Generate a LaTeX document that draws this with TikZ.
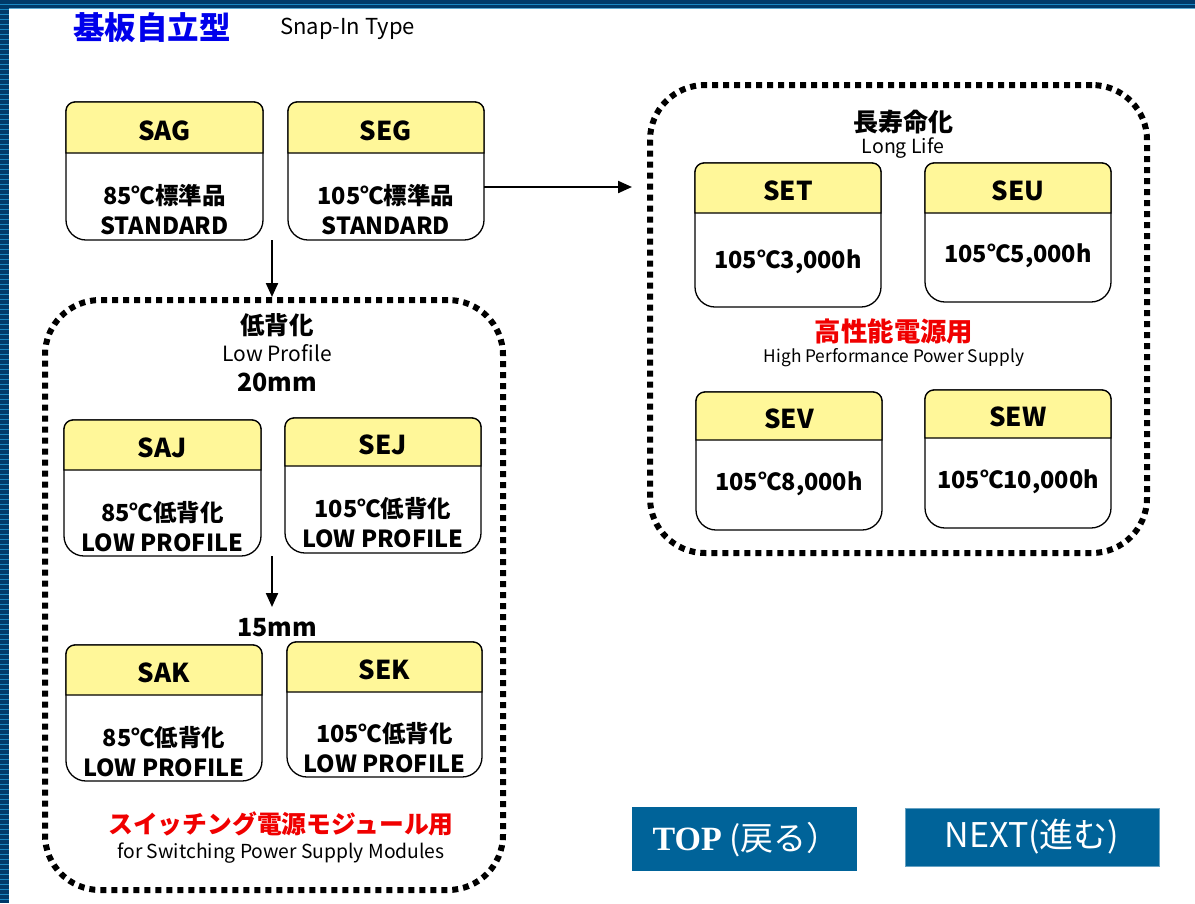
\documentclass[tikz,border=0pt]{standalone}
\usepackage{fontspec}
\setmainfont{Noto Sans CJK JP}
\newfontfamily\serifb{Liberation Serif}
\usetikzlibrary{arrows.meta}
\definecolor{hdr}{RGB}{255,247,153}
\definecolor{btn}{RGB}{0,99,153}
\definecolor{navy}{RGB}{0,58,106}
\definecolor{stripe}{RGB}{25,135,195}
\definecolor{ttl}{RGB}{0,0,235}
\definecolor{redtxt}{RGB}{240,0,0}
\newcommand\fs[1]{\fontsize{#1}{#1}\selectfont}
\tikzset{
  cardline/.style={draw=black, line width=1.3pt},
  ctitle/.style={font=\fs{26}\bfseries, inner sep=0pt},
  cbody/.style={font=\fontsize{23.5}{30}\selectfont\bfseries, align=center, inner sep=0pt},
  dashbox/.style={draw=black, line width=6pt, dash pattern=on 6pt off 5pt, rounded corners=55pt, inner sep=0pt},
  arr/.style={draw=black, line width=2.2pt, -{Triangle[length=14pt,width=12pt]}},
  jlabel/.style={font=\fs{24.5}\bfseries, inner sep=0pt},
  elabel/.style={inner sep=0pt},
  rlabel/.style={text=redtxt, inner sep=0pt},
  btnbox/.style={fill=btn, inner sep=0pt},
  btntext/.style={text=white, inner sep=0pt},
}
\newcommand\card[9]{%
  \path[cardline, fill=white] (#2,{#3+9}) .. controls (#2,{#3+4}) and ({#2+4},#3) .. ({#2+9},#3)
    -- ({#4-9},#3) .. controls ({#4-4},#3) and (#4,{#3+4}) .. (#4,{#3+9})
    -- (#4,{#5-20}) .. controls (#4,{#5-9}) and ({#4-9},#5) .. ({#4-20},#5)
    -- ({#2+20},#5) .. controls ({#2+9},#5) and (#2,{#5-9}) .. (#2,{#5-20}) -- cycle;
  \path[cardline, fill=hdr] (#2,#6) -- (#2,{#3+9}) .. controls (#2,{#3+4}) and ({#2+4},#3) .. ({#2+9},#3)
    -- ({#4-9},#3) .. controls ({#4-4},#3) and (#4,{#3+4}) .. (#4,{#3+9}) -- (#4,#6) -- cycle;
  \node[ctitle] (#1-t) at ({(#2+#4)/2},{(#3+#6)/2+3}) {#7};
  \node[cbody] (#1-b) at ({(#2+#4)/2},#9) {#8};
}
\begin{document}
\begin{tikzpicture}[x=1pt,y=-1pt]
\useasboundingbox (0,0) rectangle (1195,903);
\fill[white] (0,0) rectangle (1195,903);
% frame bands
\fill[navy] (0,0) rectangle (1195,9);
\fill[stripe] (9,4.2) rectangle (1195,5.4);
\fill[stripe!70!white] (9,8) rectangle (1195,9);
\fill[navy] (0,0) rectangle (9,903);
\foreach \yy in {4.2,9.2,...,903} {\fill[stripe] (0,\yy) rectangle (9,{\yy+1.2});}
% title
\node[font=\fs{31.5}\bfseries, text=ttl, anchor=west, inner sep=0pt] (title) at (73,28) {基板自立型};
\node[font=\fs{22}, anchor=west, inner sep=0pt] (snap) at (280,29) {Snap-In Type};
% dashed groups
\node[dashbox, minimum width=458pt, minimum height=590pt] (lowbox) at (274,595) {};
\node[dashbox, minimum width=497pt, minimum height=468pt] (longbox) at (898.5,319) {};
% top cards
\card{sag}{66}{102}{263}{240}{153}{SAG}{85℃標準品\\STANDARD}{210}
\card{seg}{288}{102}{484}{240}{153}{SEG}{105℃標準品\\STANDARD}{210}
% low profile group
\node[jlabel] (lpj) at (277,325) {低背化};
\node[elabel, font=\fs{21}] (lpe) at (277,353) {Low Profile};
\node[jlabel, font=\fs{25}\bfseries] (mm20) at (277,382) {20mm};
\card{saj}{64}{420}{261}{556}{470}{SAJ}{85℃低背化\\LOW PROFILE}{527}
\card{sej}{285}{418}{481}{553}{466}{SEJ}{105℃低背化\\LOW PROFILE}{523}
\node[jlabel, font=\fs{25}\bfseries] (mm15) at (277,628) {15mm};
\card{sak}{66}{645}{262}{781}{695}{SAK}{85℃低背化\\LOW PROFILE}{752}
\card{sek}{287}{642}{482}{777}{692}{SEK}{105℃低背化\\LOW PROFILE}{748}
\node[rlabel, font=\fs{24.8}\bfseries] (swj) at (281,824) {スイッチング電源モジュール用};
\node[elabel, font=\fs{19.3}] (swe) at (281,853) {for Switching Power Supply Modules};
% long life group
\node[jlabel, font=\fs{25}\bfseries] (llj) at (903,122) {長寿命化};
\node[elabel, font=\fs{19.5}] (lle) at (903,148) {Long Life};
\card{set}{695}{163}{881}{307}{213}{SET}{105℃3,000h}{262}
\card{seu}{925}{163}{1111}{302}{213}{SEU}{105℃5,000h}{256}
\node[rlabel, font=\fs{26.4}\bfseries] (hpj) at (894,331) {高性能電源用};
\node[elabel, font=\fs{17.3}] (hpe) at (894,358) {High Performance Power Supply};
\card{sev}{696}{392}{882}{530}{440}{SEV}{105℃8,000h}{484}
\card{sew}{925}{390}{1111}{528}{438}{SEW}{105℃10,000h}{482}
% arrows
\coordinate (a1) at (272,240);
\draw[arr] (a1) -- (a1 |- lowbox.north);
\coordinate (a2) at (484,187);
\coordinate (a2e) at (632,187);
\draw[arr] (a2) -- (a2e);
\coordinate (a3) at (272,556);
\coordinate (a3e) at (272,607);
\draw[arr] (a3) -- (a3e);
% buttons
\node[btnbox, minimum width=225pt, minimum height=64pt] (topb) at (744.5,839) {};
\node[btntext, font=\fs{33}] (topt) at (746,840) {{\serifb\bfseries\fs{34}TOP} (戻る）};
\node[btnbox, draw=btn!60!white, line width=0.8pt, minimum width=254pt, minimum height=58pt] (nextb) at (1032,837) {};
\node[btntext, font=\fs{34}] (nextt) at (nextb.center) {NEXT(進む)};
\end{tikzpicture}
\end{document}
